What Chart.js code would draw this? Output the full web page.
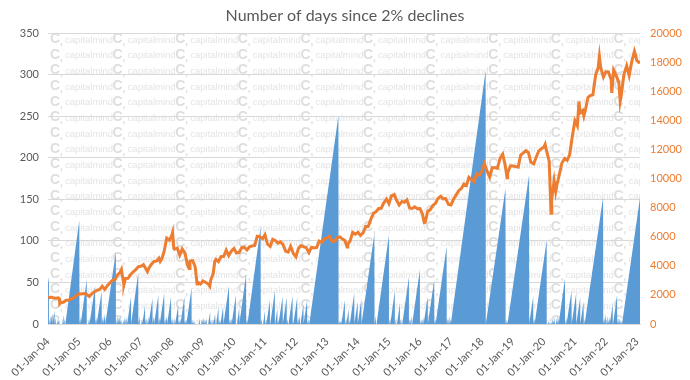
<!DOCTYPE html>
<html>
<head>
<meta charset="utf-8">
<script src="https://cdn.jsdelivr.net/npm/chart.js@4.4.1/dist/chart.umd.min.js"></script>
<style>
html,body{margin:0;padding:0;background:#fff;}
#c{display:block;}
</style>
</head>
<body>
<canvas id="c" width="690" height="380"></canvas>
<script>
// ---------- DATA ----------
const chartTitle = 'Number of days since 2% declines';
const watermarkText = 'capitalmind';

// x-axis tick positions (years) and their labels
const tickYears = [2004,2005,2006,2007,2008,2009,2010,2011,2012,2013,2014,2015,2016,2017,2018,2019,2020,2021,2022,2023];
const tickLabels = ['01-Jan-04','01-Jan-05','01-Jan-06','01-Jan-07','01-Jan-08','01-Jan-09','01-Jan-10','01-Jan-11','01-Jan-12','01-Jan-13','01-Jan-14','01-Jan-15','01-Jan-16','01-Jan-17','01-Jan-18','01-Jan-19','01-Jan-20','01-Jan-21','01-Jan-22','01-Jan-23'];

// Days-since-2%-decline counter: each tooth = [start date (yr), peak date (yr), peak days]
const teeth = [
[2003.82,2004.03,57],[2004.04,2004.08,10],[2004.09,2004.14,13],[2004.15,2004.21,16],[2004.22,2004.25,8],
[2004.26,2004.29,7],[2004.30,2004.33,9],[2004.34,2004.36,5],[2004.37,2004.38,3],[2004.39,2004.41,5],
[2004.42,2004.45,8],[2004.46,2004.50,11],[2004.51,2004.54,7],[2004.56,2005.01,125],[2005.02,2005.05,8],
[2005.06,2005.25,54],[2005.26,2005.29,9],[2005.30,2005.33,7],[2005.35,2005.52,46],[2005.53,2005.56,8],
[2005.58,2005.73,39],[2005.74,2005.78,10],[2005.79,2005.84,12],[2005.86,2006.19,87],[2006.20,2006.24,10],
[2006.25,2006.28,8],[2006.29,2006.33,11],[2006.34,2006.36,6],[2006.37,2006.38,3],[2006.39,2006.40,2],
[2006.41,2006.43,5],[2006.44,2006.47,8],[2006.48,2006.51,7],[2006.52,2006.55,10],[2006.56,2006.68,33],
[2006.68,2006.91,61],[2006.92,2006.96,10],[2006.97,2007.00,8],[2007.01,2007.04,7],[2007.05,2007.13,22],
[2007.14,2007.17,7],[2007.18,2007.19,4],[2007.20,2007.24,9],[2007.25,2007.37,31],[2007.38,2007.42,9],
[2007.43,2007.56,35],[2007.57,2007.60,8],[2007.61,2007.75,37],[2007.76,2007.79,7],[2007.80,2007.84,10],
[2007.85,2007.97,33],[2007.98,2008.01,8],[2008.02,2008.04,5],[2008.05,2008.06,3],[2008.07,2008.10,6],
[2008.11,2008.20,23],[2008.21,2008.23,5],[2008.24,2008.27,7],[2008.28,2008.40,33],[2008.41,2008.43,5],
[2008.44,2008.46,6],[2008.47,2008.63,43],[2008.64,2008.66,5],[2008.67,2008.68,3],[2008.70,2008.72,4],
[2008.73,2008.74,2],[2008.75,2008.77,3],[2008.78,2008.80,4],[2008.81,2008.82,2],[2008.84,2008.86,5],
[2008.87,2008.90,7],[2008.91,2008.93,4],[2008.94,2008.97,6],[2008.98,2009.01,8],[2009.02,2009.04,6],
[2009.06,2009.08,5],[2009.09,2009.12,7],[2009.13,2009.15,5],[2009.17,2009.23,15],[2009.24,2009.26,5],
[2009.27,2009.29,4],[2009.30,2009.33,6],[2009.35,2009.39,12],[2009.40,2009.42,4],[2009.43,2009.50,21],
[2009.51,2009.53,5],[2009.54,2009.56,4],[2009.57,2009.65,21],[2009.67,2009.84,46],[2009.85,2009.88,6],
[2009.89,2009.92,7],[2009.93,2010.06,35],[2010.07,2010.09,4],[2010.10,2010.17,20],[2010.18,2010.39,60],
[2010.40,2010.43,7],[2010.44,2010.86,117],[2010.87,2010.90,7],[2010.91,2010.93,5],[2010.94,2011.00,16],
[2011.01,2011.04,6],[2011.05,2011.16,29],[2011.17,2011.32,40],[2011.33,2011.40,19],[2011.41,2011.43,5],
[2011.44,2011.57,33],[2011.58,2011.70,32],[2011.71,2011.74,6],[2011.76,2011.89,34],[2011.90,2011.91,3],
[2011.92,2012.04,32],[2012.05,2012.08,8],[2012.09,2012.13,10],[2012.15,2012.24,24],[2012.25,2012.36,29],
[2012.37,2012.41,6],[2012.43,2013.37,251],[2013.38,2013.40,4],[2013.41,2013.43,3],[2013.44,2013.46,4],
[2013.47,2013.58,29],[2013.59,2013.62,7],[2013.63,2013.70,18],[2013.71,2013.73,4],[2013.74,2013.88,37],
[2013.89,2013.99,27],[2014.00,2014.11,30],[2014.12,2014.53,109],[2014.54,2014.58,10],[2014.60,2015.00,107],
[2015.01,2015.04,7],[2015.05,2015.19,40],[2015.20,2015.23,7],[2015.26,2015.355,25],[2015.36,2015.39,7],
[2015.40,2015.42,5],[2015.43,2015.645,57],[2015.65,2015.68,7],[2015.69,2015.73,10],[2015.75,2016.00,66],
[2016.01,2016.04,7],[2016.05,2016.07,5],[2016.08,2016.11,8],[2016.13,2016.25,33],[2016.26,2016.46,53],
[2016.47,2016.50,7],[2016.51,2016.86,93],[2016.87,2016.90,7],[2016.91,2016.95,10],[2016.96,2016.99,6],
[2017.00,2018.12,305],[2018.13,2018.76,163],[2018.77,2018.79,5],[2018.80,2018.82,4],[2018.83,2019.52,179],
[2019.53,2019.655,33],[2019.66,2019.69,7],[2019.71,2020.09,101],[2020.10,2020.12,5],[2020.13,2020.15,4],
[2020.16,2020.17,2],[2020.18,2020.19,2],[2020.20,2020.21,1],[2020.22,2020.23,2],[2020.24,2020.25,3],
[2020.26,2020.28,5],[2020.29,2020.31,4],[2020.32,2020.35,8],[2020.36,2020.38,5],[2020.39,2020.43,10],
[2020.44,2020.47,8],[2020.48,2020.68,55],[2020.69,2020.72,8],[2020.74,2020.89,40],[2020.90,2021.04,37],
[2021.05,2021.17,32],[2021.18,2021.28,27],[2021.29,2021.31,5],[2021.32,2021.91,153],[2021.92,2021.95,8],
[2021.96,2022.00,12],[2022.01,2022.05,10],[2022.06,2022.08,6],[2022.09,2022.12,8],[2022.13,2022.22,24],
[2022.23,2022.36,35],[2022.37,2022.40,8],[2022.41,2022.44,7],[2022.45,2022.47,5],[2022.48,2022.50,4],
[2022.52,2023.10,152]
];

// Index level (right axis): dates (yr) and values
const indexDates = [
2004.00,2004.05,2004.10,2004.16,2004.25,2004.33,2004.37,2004.38,2004.42,2004.50,2004.58,2004.67,2004.75,2004.83,2004.92,
2005.00,2005.08,2005.17,2005.25,2005.33,2005.42,2005.50,2005.58,2005.67,2005.75,2005.83,2005.92,
2006.00,2006.08,2006.17,2006.25,2006.33,2006.37,2006.42,2006.45,2006.50,2006.58,2006.67,2006.75,2006.83,2006.92,
2007.00,2007.08,2007.17,2007.21,2007.25,2007.33,2007.42,2007.50,2007.58,2007.62,2007.67,2007.75,2007.83,2007.92,
2008.00,2008.02,2008.06,2008.08,2008.17,2008.25,2008.33,2008.42,2008.50,2008.55,2008.58,2008.67,2008.75,2008.81,2008.83,2008.92,
2009.00,2009.08,2009.17,2009.22,2009.25,2009.33,2009.38,2009.42,2009.50,2009.58,2009.67,2009.75,2009.83,2009.92,
2010.00,2010.08,2010.17,2010.25,2010.33,2010.42,2010.50,2010.58,2010.67,2010.75,2010.83,2010.92,
2011.00,2011.08,2011.17,2011.25,2011.33,2011.42,2011.50,2011.58,2011.67,2011.75,2011.83,2011.92,
2012.00,2012.08,2012.17,2012.25,2012.33,2012.42,2012.50,2012.58,2012.67,2012.75,2012.83,2012.92,
2013.00,2013.08,2013.17,2013.25,2013.33,2013.42,2013.50,2013.58,2013.65,2013.67,2013.75,2013.83,2013.92,
2014.00,2014.08,2014.17,2014.25,2014.33,2014.42,2014.50,2014.58,2014.67,2014.75,2014.83,2014.92,
2015.00,2015.08,2015.17,2015.25,2015.33,2015.42,2015.50,2015.58,2015.67,2015.75,2015.83,2015.92,
2016.00,2016.08,2016.14,2016.17,2016.25,2016.33,2016.42,2016.50,2016.58,2016.67,2016.75,2016.83,2016.92,
2017.00,2017.08,2017.17,2017.25,2017.33,2017.42,2017.50,2017.58,2017.67,2017.75,2017.83,2017.92,
2018.00,2018.08,2018.17,2018.25,2018.33,2018.42,2018.50,2018.58,2018.67,2018.75,2018.81,2018.83,2018.92,
2019.00,2019.08,2019.17,2019.25,2019.33,2019.42,2019.50,2019.58,2019.67,2019.75,2019.83,2019.92,
2020.00,2020.04,2020.08,2020.17,2020.23,2020.25,2020.33,2020.38,2020.42,2020.50,2020.58,2020.67,2020.75,2020.83,2020.92,
2021.00,2021.08,2021.13,2021.17,2021.25,2021.29,2021.33,2021.42,2021.50,2021.58,2021.67,2021.75,2021.79,2021.83,2021.92,
2022.00,2022.08,2022.17,2022.19,2022.25,2022.33,2022.42,2022.46,2022.50,2022.58,2022.67,2022.75,2022.83,2022.92,2022.96,
2023.00,2023.05,2023.08
];
const indexValues = [
1880,1810,1850,1800,1770,1800,1720,1390,1480,1500,1630,1630,1745,1790,1960,
2080,2060,2100,2035,1900,2090,2220,2310,2385,2600,2370,2650,
2837,3000,3075,3400,3560,3750,3070,2700,3130,3140,3410,3590,3740,3950,
3966,4080,3745,3600,3820,4090,4300,4320,4530,4300,4460,5020,5900,5760,
6140,6290,5200,5140,5220,4730,5165,4870,4040,3820,4330,4360,3920,2750,2885,2755,
2960,2875,2760,2600,3020,3470,4300,4450,4290,4640,4660,5080,4710,5030,
5200,4880,4920,5250,5280,5090,5310,5370,5400,6030,6020,5860,
6135,5500,5330,5830,5750,5560,5650,5480,5000,4940,5330,4830,
4620,5200,5390,5300,5250,4920,5280,5230,5260,5700,5620,5880,
5905,6035,5690,5680,5930,5986,5840,5740,5300,5470,5735,6300,6176,
6300,6090,6280,6700,6700,7230,7610,7720,7950,7960,8320,8590,
8280,8810,8900,8490,8180,8430,8370,8530,7970,7950,8065,7935,
7946,7560,6970,6990,7740,7850,8160,8290,8640,8790,8610,8630,8220,
8185,8560,8880,9170,9300,9620,9520,10080,9920,9790,10340,10230,
10530,11030,10490,10110,10740,10740,10710,11360,11680,10930,10050,10390,10880,
10860,10830,10790,11620,11750,11920,11790,11120,11020,11470,11880,12060,
12170,12360,11960,11200,7610,8600,9860,9100,9580,10300,11070,11390,11250,11640,12970,
13980,13630,15300,14530,14690,14300,14630,15580,15720,15760,17130,17620,18400,17670,16980,
17350,17340,16790,15900,17460,17100,16580,15300,15780,17160,17760,17090,18010,18760,18450,
18105,18050,17900
];

// ---------- BUILD SERIES ----------
const dayPoints = [];
teeth.forEach((t, i) => {
  dayPoints.push({x: t[0], y: 0});
  dayPoints.push({x: t[1], y: t[2]});
  if (i < teeth.length - 1) dayPoints.push({x: t[1], y: 0});
});
const indexPoints = indexDates.map((d, i) => ({x: d, y: indexValues[i]}));

const GRAY = '#595959';
const ORANGE = '#ED7D31';
const BLUE = '#5B9BD5';
const GRID = '#d9d9d9';

const watermark = {
  id: 'watermark',
  beforeDraw(chart) {
    const {ctx, chartArea: a} = chart;
    ctx.save();
    ctx.beginPath();
    ctx.rect(a.left, a.top, a.right - a.left, a.bottom - a.top);
    ctx.clip();
    ctx.textBaseline = 'middle';
    ctx.textAlign = 'left';
    for (let r = 0; r < 20; r++) {
      const y = a.top + 6 + r * 15.65;
      for (let c = 0; c < 10; c++) {
        const x = a.left + 2 + c * 62.6;
        ctx.fillStyle = '#dedede';
        ctx.font = 'bold 14px "Liberation Sans"';
        ctx.fillText('C', x, y);
        ctx.font = 'bold 10px "Liberation Sans"';
        ctx.fillText(',', x + 10, y + 3);
        ctx.fillStyle = '#e4e4e4';
        ctx.font = '9.5px "Liberation Sans"';
        ctx.fillText(watermarkText, x + 15, y + 1);
      }
    }
    ctx.restore();
  }
};

new Chart(document.getElementById('c'), {
  type: 'line',
  data: {
    datasets: [
      {
        label: 'Index',
        data: indexPoints,
        yAxisID: 'y1',
        borderColor: ORANGE,
        borderWidth: 3,
        pointRadius: 0,
        tension: 0,
        fill: false,
        order: 0
      },
      {
        label: 'Days since 2% decline',
        data: dayPoints,
        yAxisID: 'y',
        borderColor: 'rgba(0,0,0,0)',
        borderWidth: 0,
        backgroundColor: BLUE,
        pointRadius: 0,
        tension: 0,
        fill: 'origin',
        order: 1
      }
    ]
  },
  options: {
    responsive: false,
    animation: false,
    events: [],
    layout: {padding: 0},
    plugins: {
      legend: {display: false},
      tooltip: {enabled: false},
      title: {
        display: true,
        text: chartTitle,
        color: GRAY,
        font: {family: 'Lato', size: 16, weight: 'normal', lineHeight: 1.2},
        padding: {top: 6, bottom: 8}
      }
    },
    scales: {
      x: {
        type: 'linear',
        min: 2004,
        max: 2023.1,
        afterBuildTicks: (s) => { s.ticks = tickYears.map(v => ({value: v})); },
        afterFit: (s) => { s.height = 56; },
        grid: {display: false},
        border: {display: true, color: GRID, width: 1},
        ticks: {
          autoSkip: false,
          maxRotation: 45,
          minRotation: 45,
          color: GRAY,
          padding: 3,
          font: {family: 'Lato', size: 11},
          callback: (v) => tickLabels[tickYears.indexOf(v)] || ''
        }
      },
      y: {
        position: 'left',
        min: 0,
        max: 350,
        afterFit: (s) => { s.width = 48; },
        grid: {color: GRID, lineWidth: 1, drawTicks: false},
        border: {display: false},
        ticks: {stepSize: 50, color: GRAY, padding: 9, font: {family: 'Lato', size: 11}}
      },
      y1: {
        position: 'right',
        min: 0,
        max: 20000,
        afterFit: (s) => { s.width = 50; },
        grid: {display: false, drawTicks: false},
        border: {display: false},
        ticks: {
          stepSize: 2000,
          color: ORANGE,
          padding: 10,
          font: {family: 'Lato', size: 11},
          callback: (v) => String(v)
        }
      }
    }
  },
  plugins: [watermark]
});
</script>
</body>
</html>
